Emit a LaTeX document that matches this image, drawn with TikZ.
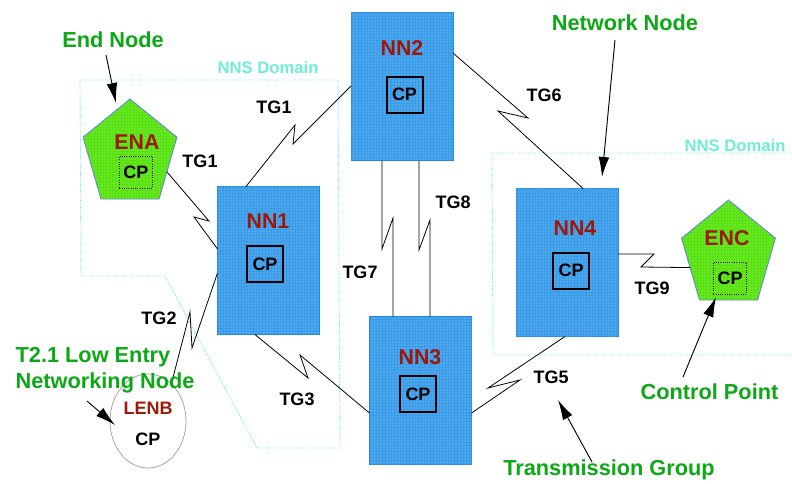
\documentclass[tikz,border=0pt]{standalone}
\usepackage{fontspec}
\setmainfont{Liberation Sans}
\usetikzlibrary{shapes.geometric,arrows.meta,calc,patterns.meta}

\definecolor{nnblue}{RGB}{58,156,232}
\definecolor{nndots}{RGB}{150,205,250}
\definecolor{nnedge}{RGB}{30,136,222}
\definecolor{engreen}{RGB}{88,226,16}
\definecolor{endots}{RGB}{170,245,120}
\definecolor{enedge}{RGB}{95,135,210}
\definecolor{nodered}{RGB}{158,24,10}
\definecolor{notegreen}{RGB}{12,168,22}
\definecolor{domcyan}{RGB}{110,238,212}

\begin{document}
\begin{tikzpicture}[x=0.75pt,y=-0.75pt,
  nnbox/.style={draw=nnedge, line width=0.7pt, fill=nnblue,
    postaction={pattern={Dots[distance=2.25pt,radius=0.4pt]}, pattern color=nndots},
    minimum width=76.5pt, minimum height=111pt, inner sep=0, outer sep=0},
  pent/.style={regular polygon, regular polygon sides=5, draw=enedge,
    line width=0.7pt, fill=engreen,
    postaction={pattern={Dots[distance=2.25pt,radius=0.4pt]}, pattern color=endots},
    minimum size=74pt, inner sep=0, outer sep=0},
  nnlabel/.style={text=nodered, font=\bfseries\fontsize{16}{18}\selectfont},
  cpbox/.style={draw, line width=1.5pt, minimum size=27pt, inner sep=0,
    font=\bfseries\fontsize{13.5}{15}\selectfont},
  cpdot/.style={draw, densely dotted, line width=0.7pt, minimum width=25pt,
    minimum height=24pt, inner sep=0, font=\bfseries\fontsize{13.5}{15}\selectfont},
  tglabel/.style={font=\bfseries\fontsize{13.5}{15}\selectfont},
  note/.style={text=notegreen, font=\bfseries\fontsize{16.3}{19.5}\selectfont},
  nnsborder/.style={draw=domcyan, densely dotted, line width=0.7pt},
  nnstext/.style={text=domcyan, font=\bfseries\fontsize{12.5}{14}\selectfont},
  link/.style={draw, line width=0.6pt, line join=miter},
  pointer/.style={draw, line width=0.7pt, -{Latex[length=15pt,width=8pt]}},
]
\useasboundingbox (0,0) rectangle (792,483);

% NNS domain outlines
\draw[nnsborder] (80,80) -- (338,80) -- (340,448) -- (257,448) -- (165,276) -- (81,276) -- cycle;
\draw[nnsborder] (792,153) -- (492,153) -- (493,355) -- (792,355);
\node[nnstext] (dom1) at (268,68) {NNS Domain};
\node[nnstext] (dom2) at (735,146) {NNS Domain};

% network nodes
\node[nnbox] (nn2) at (402,86.5) {};
\node[nnbox] (nn1) at (268.5,260.5) {};
\node[nnbox] (nn3) at (420.5,390.5) {};
\node[nnbox] (nn4) at (567,262.5) {};

% end nodes
\begin{scope}[shift={(130,154.3)}, yscale=1.12]
  \node[pent, transform shape] (ena) at (0,0) {};
\end{scope}
\begin{scope}[shift={(728.5,255.3)}, yscale=1.12]
  \node[pent, transform shape] (enc) at (0,0) {};
\end{scope}

% low entry networking node
\node[ellipse, draw=gray!70, line width=0.6pt, minimum width=57pt,
  minimum height=70.5pt, inner sep=0] (lenb) at (148,421) {};

% node names and control points
\node[nnlabel] (nn2t) at (402,48) {NN2};
\node[cpbox] (nn2cp) at (404.5,94.5) {CP};
\node[nnlabel] (nn1t) at (268,221) {NN1};
\node[cpbox] (nn1cp) at (265,264) {CP};
\node[nnlabel] (nn3t) at (420,357) {NN3};
\node[cpbox] (nn3cp) at (418,394) {CP};
\node[nnlabel] (nn4t) at (575,228) {NN4};
\node[cpbox] (nn4cp) at (571,270.5) {CP};
\node[nnlabel] (enat) at (137,142) {ENA};
\node[cpdot] (enacp) at (136,172) {CP};
\node[nnlabel] (enct) at (727,238) {ENC};
\node[cpdot] (enccp) at (730,278) {CP};
\node[text=nodered, font=\bfseries\fontsize{13.5}{15}\selectfont] (lenbt) at (148,408) {LENB};
\node[font=\bfseries\fontsize{13.5}{15}\selectfont] (lenbcp) at (148,439) {CP};

% transmission groups
\draw[link] (246,0 |- nn1.north) -- (295,125) -- (293,144) -- (nn2.west |- 0,86);
\draw[link] ($(ena.corner 5)!0.56!(ena.corner 4)$) -- (209,221) -- (194,217) -- (nn1.west |- 0,249);
\draw[link] (nn2.east |- 0,53) -- (528,118) -- (498,111) -- (583,0 |- nn4.north);
\draw[link] (419,0 |- nn2.south) -- (419,250) -- (430,220) -- (430,0 |- nn3.north);
\draw[link] (382,0 |- nn2.south) -- (382,249) -- (393,218) -- (393,0 |- nn3.north);
\draw[link] (nn1.west |- 0,273) -- (192,348) -- (190,312) -- (lenb.58);
\draw[link] (255,0 |- nn1.south) -- (308,378) -- (300,355) -- (nn3.west |- 0,413);
\draw[link] (nn3.east |- 0,413) -- (520,380) -- (488,388) -- (565,0 |- nn4.south);
\draw[link] (nn4.east |- 0,254) -- (654,254) -- (641,267) -- ($(enc.corner 2)!0.475!(enc.corner 3)$);

\node[tglabel] (tg1a) at (274,107) {TG1};
\node[tglabel] (tg1b) at (200,161) {TG1};
\node[tglabel] (tg6) at (544,95) {TG6};
\node[tglabel] (tg8) at (453,202) {TG8};
\node[tglabel] (tg7) at (360,272) {TG7};
\node[tglabel] (tg2) at (159,318) {TG2};
\node[tglabel] (tg3) at (297,399) {TG3};
\node[tglabel] (tg5) at (551,377) {TG5};
\node[tglabel] (tg9) at (652,288) {TG9};

% explanatory notes
\node[note] (endnote) at (113,40) {End Node};
\node[note] (netnote) at (625,23) {Network Node};
\node[note] (cpnote) at (709.5,392) {Control Point};
\node[note] (tgnote) at (609,470) {Transmission Group};
\node[note, align=left, anchor=west] (lennote) at (11,370) {T2.1 Low Entry\\Networking Node};

\coordinate (endtail) at (106,55);   \coordinate (endtip) at (116,103);
\coordinate (nettail) at (615,40);   \coordinate (nettip) at (602,177);
\coordinate (cptail) at (683,377);   \coordinate (cptip) at (716,297);
\coordinate (tgtail) at (592,462);   \coordinate (tgtip) at (558,400);
\coordinate (lentail) at (87,401);   \coordinate (lentip) at (115,425);
\draw[pointer] (endtail) -- (endtip);
\draw[pointer] (nettail) -- (nettip);
\draw[pointer] (cptail) -- (cptip);
\draw[pointer] (tgtail) -- (tgtip);
\draw[pointer] (lentail) -- (lentip);
\end{tikzpicture}
\end{document}
